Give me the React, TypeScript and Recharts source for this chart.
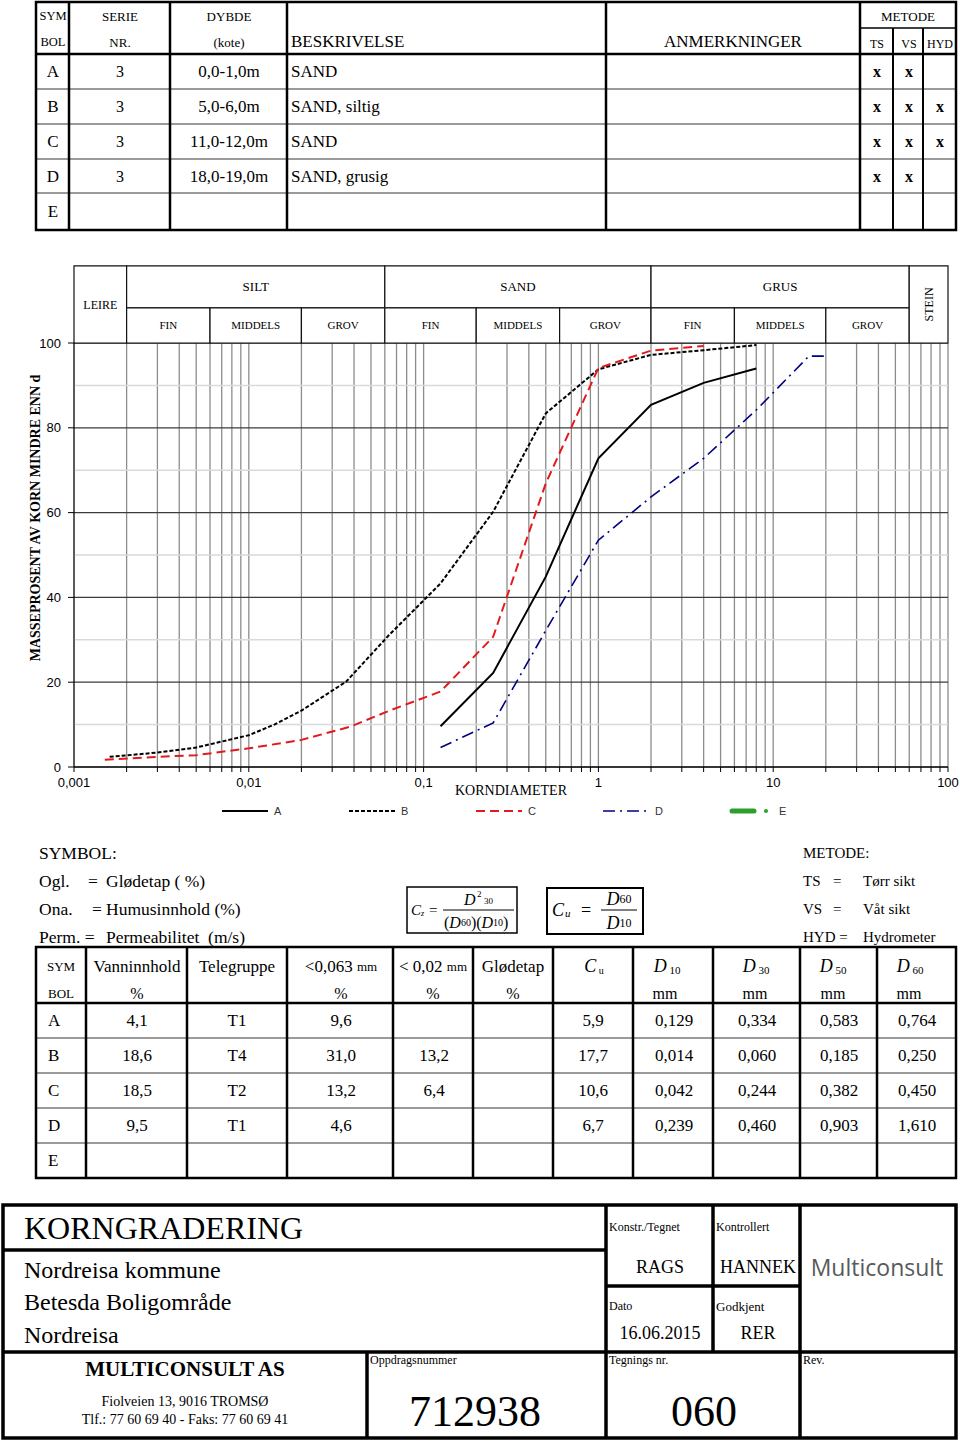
import { CartesianGrid, Legend, Line, LineChart, ReferenceArea, ReferenceLine, XAxis, YAxis } from "recharts"

const SERIF = '"Liberation Serif", "Times New Roman", serif'
const SANS = '"Liberation Sans", Arial, sans-serif'

// grain size curves: diameter (mm) / percent passing
const diamA = [0.125, 0.25, 0.5, 1, 2, 4, 8]
const passA = [9.6, 22.2, 44.9, 72.8, 85.4, 90.6, 94.0]

const diamB = [0.0016, 0.003, 0.005, 0.007, 0.01, 0.014, 0.02, 0.028, 0.036, 0.063, 0.125, 0.25, 0.5, 1, 2, 4, 8]
const passB = [2.4, 3.4, 4.6, 6.0, 7.5, 10.0, 13.3, 17.2, 20.1, 31.0, 43.3, 60.2, 83.4, 93.8, 97.2, 98.3, 99.5]

const diamC = [0.0015, 0.003, 0.005, 0.01, 0.02, 0.038, 0.063, 0.125, 0.25, 0.5, 1, 2, 4]
const passC = [1.7, 2.4, 2.8, 4.4, 6.4, 9.5, 13.2, 17.8, 30.7, 66.9, 94.1, 98.2, 99.3]

const diamD = [0.125, 0.25, 0.5, 1, 2, 4, 8, 16, 20]
const passD = [4.6, 10.4, 32.2, 53.5, 63.7, 72.8, 84.2, 96.9, 96.9]

// axes
const decadeTicks = [0.001, 0.01, 0.1, 1, 10, 100]
const decadeLabels = ["0,001", "0,01", "0,1", "1", "10", "100"]
const percentTicks = [0, 20, 40, 60, 80, 100]
const percentMinor = [10, 30, 50, 70, 90]

// soil fraction header (NS classification)
const fractionEdges = [0.002, 0.006, 0.02, 0.06, 0.2, 0.6, 2, 6, 20, 60]
const mainNames = ["SILT", "SAND", "GRUS"]
const subNames = ["FIN", "MIDDELS", "GROV"]
const headerMid = 108.3
const headerTop = 118.2

// sample tables
const symbols = ["A", "B", "C", "D", "E"]
const serieNr = ["3", "3", "3", "3", ""]
const depths = ["0,0-1,0m", "5,0-6,0m", "11,0-12,0m", "18,0-19,0m", ""]
const descriptions = ["SAND", "SAND, siltig", "SAND", "SAND, grusig", ""]
const methodTS = ["x", "x", "x", "x", ""]
const methodVS = ["x", "x", "x", "x", ""]
const methodHYD = ["", "x", "x", "", ""]

const waterContent = ["4,1", "18,6", "18,5", "9,5", ""]
const teleGroup = ["T1", "T4", "T2", "T1", ""]
const finer063 = ["9,6", "31,0", "13,2", "4,6", ""]
const finer002 = ["", "13,2", "6,4", "", ""]
const ignitionLoss = ["", "", "", "", ""]
const cuValues = ["5,9", "17,7", "10,6", "6,7", ""]
const d10 = ["0,129", "0,014", "0,042", "0,239", ""]
const d30 = ["0,334", "0,060", "0,244", "0,460", ""]
const d50 = ["0,583", "0,185", "0,382", "0,903", ""]
const d60 = ["0,764", "0,250", "0,450", "1,610", ""]

const toPoints = (diam: number[], pass: number[]) => diam.map((d, i) => ({ d, p: pass[i] }))
const seriesA = toPoints(diamA, passA)
const seriesB = toPoints(diamB, passB)
const seriesC = toPoints(diamC, passC)
const seriesD = toPoints(diamD, passD)

const xTicks = decadeTicks
  .slice(0, -1)
  .flatMap((d) => [1, 2, 3, 4, 5, 6, 7, 8, 9].map((m) => +(d * m).toPrecision(3)))
  .concat([100])

const formatX = (v: number) => {
  const e = Math.log10(v)
  if (Math.abs(e - Math.round(e)) > 1e-6) return ""
  return decadeLabels[Math.round(e) + 3] ?? ""
}

function T({ x, y, s = 16, a = "middle", bold, italic, font = SERIF, fill = "#000", children }: any) {
  return (
    <text
      x={x}
      y={y}
      fontSize={s}
      textAnchor={a}
      dominantBaseline="central"
      fontFamily={font}
      fontWeight={bold ? "bold" : "normal"}
      fontStyle={italic ? "italic" : "normal"}
      fill={fill}
      style={{ whiteSpace: "pre" }}
    >
      {children}
    </text>
  )
}

function L({ x1, y1, x2, y2, w = 2, c = "#000" }: any) {
  return <line x1={x1} y1={y1} x2={x2} y2={y2} stroke={c} strokeWidth={w} />
}

const rowYTop = [71.5, 106.5, 141.5, 176, 211.5]
const rowYBottom = [1020.5, 1055.5, 1090.5, 1125.5, 1160.5]

function FormSheet() {
  return (
    <svg width={960} height={1443} style={{ position: "absolute", left: 0, top: 0 }}>
      {/* sample table */}
      {[89, 124, 159, 193].map((y) => (
        <L key={y} x1={36} y1={y} x2={956} y2={y} c="#9a9a9a" w={2} />
      ))}
      <rect x={36} y={2} width={920} height={228} fill="none" stroke="#000" strokeWidth={2.5} />
      {[69, 170, 287, 606, 860].map((x) => (
        <L key={x} x1={x} y1={2} x2={x} y2={230} w={2.5} />
      ))}
      <L x1={893} y1={28} x2={893} y2={230} w={2} />
      <L x1={923} y1={28} x2={923} y2={230} w={2} />
      <L x1={36} y1={54} x2={956} y2={54} w={2.5} />
      <L x1={860} y1={28} x2={956} y2={28} w={1.5} />
      <T x={53} y={16} s={12.5}>SYM</T>
      <T x={53} y={42} s={12.5}>BOL</T>
      <T x={120} y={16} s={13}>SERIE</T>
      <T x={120} y={42} s={13}>NR.</T>
      <T x={229} y={16} s={13}>DYBDE</T>
      <T x={229} y={42} s={13}>(kote)</T>
      <T x={291} y={41} s={17} a="start">BESKRIVELSE</T>
      <T x={733} y={41} s={17}>ANMERKNINGER</T>
      <T x={908} y={16} s={13}>METODE</T>
      <T x={877} y={44} s={12}>TS</T>
      <T x={909} y={44} s={12}>VS</T>
      <T x={940} y={44} s={12}>HYD</T>
      {symbols.map((sym, i) => (
        <g key={sym}>
          <T x={53} y={rowYTop[i]} s={17}>{sym}</T>
          <T x={120} y={rowYTop[i]} s={16}>{serieNr[i]}</T>
          <T x={229} y={rowYTop[i]} s={17}>{depths[i]}</T>
          <T x={291} y={rowYTop[i]} s={17} a="start">{descriptions[i]}</T>
          <T x={877} y={rowYTop[i]} s={16} bold>{methodTS[i]}</T>
          <T x={909} y={rowYTop[i]} s={16} bold>{methodVS[i]}</T>
          <T x={940} y={rowYTop[i]} s={16} bold>{methodHYD[i]}</T>
        </g>
      ))}

      {/* symbol explanations */}
      <T x={39} y={853} s={17.5} a="start">SYMBOL:</T>
      <T x={39} y={881} s={17.5} a="start">Ogl.</T>
      <T x={88} y={881} s={17.5} a="start">=</T>
      <T x={106} y={881} s={17.5} a="start">Glødetap ( %)</T>
      <T x={39} y={909} s={17.5} a="start">Ona.</T>
      <T x={92} y={909} s={17.5} a="start">=</T>
      <T x={106} y={909} s={17.5} a="start">Humusinnhold (%)</T>
      <T x={39} y={937} s={17.5} a="start">Perm. =</T>
      <T x={106} y={937} s={17.5} a="start">Permeabilitet  (m/s)</T>

      <rect x={407} y={887} width={110} height={46} fill="none" stroke="#000" strokeWidth={1.5} />
      <T x={411} y={910} s={15} a="start" italic>C</T>
      <T x={421} y={913} s={8} a="start" italic>z</T>
      <T x={429} y={910} s={15} a="start">=</T>
      <L x1={443} y1={910} x2={514} y2={910} w={1} />
      <T x={464} y={899} s={16} a="start" italic>D</T>
      <T x={477} y={894} s={9} a="start">2</T>
      <T x={484} y={901} s={9} a="start">30</T>
      <text x={444} y={922} fontSize={16} fontFamily={SERIF} dominantBaseline="central">
        (<tspan fontStyle="italic">D</tspan>
        <tspan fontSize={10}>60</tspan>)(<tspan fontStyle="italic">D</tspan>
        <tspan fontSize={10}>10</tspan>)
      </text>

      <rect x={547} y={888} width={96} height={46} fill="none" stroke="#000" strokeWidth={2} />
      <T x={552} y={910} s={18} a="start" italic>C</T>
      <T x={565} y={913} s={11} a="start" italic>u</T>
      <T x={581} y={910} s={18} a="start">=</T>
      <L x1={601} y1={910} x2={637} y2={910} w={1} />
      <text x={619} y={899} fontSize={18} fontFamily={SERIF} textAnchor="middle" dominantBaseline="central">
        <tspan fontStyle="italic">D</tspan>
        <tspan fontSize={12}>60</tspan>
      </text>
      <text x={619} y={923} fontSize={18} fontFamily={SERIF} textAnchor="middle" dominantBaseline="central">
        <tspan fontStyle="italic">D</tspan>
        <tspan fontSize={12}>10</tspan>
      </text>

      <T x={803} y={853} s={15} a="start">METODE:</T>
      <T x={803} y={881} s={15} a="start">TS</T>
      <T x={833} y={881} s={15} a="start">=</T>
      <T x={863} y={881} s={15} a="start">Tørr sikt</T>
      <T x={803} y={909} s={15} a="start">VS</T>
      <T x={833} y={909} s={15} a="start">=</T>
      <T x={863} y={909} s={15} a="start">Våt sikt</T>
      <T x={803} y={937} s={15} a="start">HYD =</T>
      <T x={863} y={937} s={15} a="start">Hydrometer</T>

      {/* results table */}
      {[1038, 1073, 1108, 1143].map((y) => (
        <L key={y} x1={36} y1={y} x2={956} y2={y} c="#9a9a9a" w={2} />
      ))}
      <rect x={36} y={947} width={920} height={231} fill="none" stroke="#000" strokeWidth={2.5} />
      {[86, 187, 287, 393, 473, 553, 633, 713, 800, 877].map((x) => (
        <L key={x} x1={x} y1={947} x2={x} y2={1178} w={2.5} />
      ))}
      <L x1={36} y1={1003} x2={956} y2={1003} w={2.5} />
      <T x={61} y={966} s={13}>SYM</T>
      <T x={61} y={993} s={13}>BOL</T>
      <T x={137} y={966} s={17}>Vanninnhold</T>
      <T x={137} y={993} s={16}>%</T>
      <T x={237} y={966} s={17}>Telegruppe</T>
      <text x={341} y={966} fontSize={17} fontFamily={SERIF} textAnchor="middle" dominantBaseline="central">
        {"<0,063 "}
        <tspan fontSize={13}>mm</tspan>
      </text>
      <T x={341} y={993} s={16}>%</T>
      <text x={433} y={966} fontSize={17} fontFamily={SERIF} textAnchor="middle" dominantBaseline="central">
        {"< 0,02 "}
        <tspan fontSize={13}>mm</tspan>
      </text>
      <T x={433} y={993} s={16}>%</T>
      <T x={513} y={966} s={17}>Glødetap</T>
      <T x={513} y={993} s={16}>%</T>
      <text x={594} y={966} fontSize={18} fontFamily={SERIF} textAnchor="middle" dominantBaseline="central">
        <tspan fontStyle="italic">C</tspan>
        <tspan fontSize={10} dy={4}> u</tspan>
      </text>
      {[["10", 667, 665], ["30", 756, 755], ["50", 833, 833], ["60", 910, 909]].map(([k, cx, mx]) => (
        <g key={k as string}>
          <text x={cx as number} y={966} fontSize={18} fontFamily={SERIF} textAnchor="middle" dominantBaseline="central">
            <tspan fontStyle="italic">D</tspan>
            <tspan fontSize={11} dy={4}> {k}</tspan>
          </text>
          <T x={mx} y={993} s={16}>mm</T>
        </g>
      ))}
      {symbols.map((sym, i) => (
        <g key={sym}>
          <T x={48} y={rowYBottom[i]} s={17} a="start">{sym}</T>
          <T x={137} y={rowYBottom[i]} s={17}>{waterContent[i]}</T>
          <T x={237} y={rowYBottom[i]} s={17}>{teleGroup[i]}</T>
          <T x={341} y={rowYBottom[i]} s={17}>{finer063[i]}</T>
          <T x={434} y={rowYBottom[i]} s={17}>{finer002[i]}</T>
          <T x={513} y={rowYBottom[i]} s={17}>{ignitionLoss[i]}</T>
          <T x={593} y={rowYBottom[i]} s={17}>{cuValues[i]}</T>
          <T x={674} y={rowYBottom[i]} s={17}>{d10[i]}</T>
          <T x={757} y={rowYBottom[i]} s={17}>{d30[i]}</T>
          <T x={839} y={rowYBottom[i]} s={17}>{d50[i]}</T>
          <T x={917} y={rowYBottom[i]} s={17}>{d60[i]}</T>
        </g>
      ))}

      {/* title block */}
      <rect x={3} y={1205} width={953} height={233} fill="none" stroke="#000" strokeWidth={3.5} />
      <L x1={3} y1={1250} x2={606} y2={1250} w={3.5} />
      <L x1={3} y1={1352} x2={956} y2={1352} w={3.5} />
      <L x1={367} y1={1352} x2={367} y2={1438} w={3.5} />
      <L x1={606} y1={1205} x2={606} y2={1438} w={3.5} />
      <L x1={713} y1={1205} x2={713} y2={1352} w={3.5} />
      <L x1={606} y1={1286} x2={800} y2={1286} w={3.5} />
      <L x1={800} y1={1205} x2={800} y2={1438} w={3.5} />
      <T x={24} y={1228} s={32} a="start">KORNGRADERING</T>
      <T x={24} y={1270} s={24} a="start">Nordreisa kommune</T>
      <T x={24} y={1302} s={24} a="start">Betesda Boligområde</T>
      <T x={24} y={1335} s={24} a="start">Nordreisa</T>
      <T x={185} y={1369} s={21} bold>MULTICONSULT AS</T>
      <T x={185} y={1401} s={14}>Fiolveien 13, 9016 TROMSØ</T>
      <T x={185} y={1419} s={14}>Tlf.: 77 60 69 40 - Faks: 77 60 69 41</T>
      <T x={370} y={1360} s={12} a="start">Oppdragsnummer</T>
      <T x={475} y={1411} s={44}>712938</T>
      <T x={609} y={1227} s={12} a="start">Konstr./Tegnet</T>
      <T x={660} y={1267} s={18}>RAGS</T>
      <T x={716} y={1227} s={12} a="start">Kontrollert</T>
      <T x={758} y={1267} s={18}>HANNEK</T>
      <T x={609} y={1306} s={12} a="start">Dato</T>
      <T x={660} y={1333} s={18}>16.06.2015</T>
      <T x={716} y={1306} s={13} a="start">Godkjent</T>
      <T x={758} y={1333} s={18}>RER</T>
      <T x={877} y={1267} s={23} font='"Open Sans", sans-serif' fill="#58595b">Multiconsult</T>
      <T x={609} y={1360} s={12} a="start">Tegnings nr.</T>
      <T x={704} y={1411} s={44}>060</T>
      <T x={803} y={1360} s={12} a="start">Rev.</T>
    </svg>
  )
}

const legendItems = [
  { name: "A", color: "#000", dash: undefined, width: 2 },
  { name: "B", color: "#000", dash: "4 2", width: 2 },
  { name: "C", color: "#e31a1c", dash: "9 5", width: 2 },
  { name: "D", color: "#000080", dash: "12 5 2 5", width: 1.6 },
]

function SampleLegend() {
  return (
    <div style={{ height: 28, position: "relative" }}>
      <svg width={928} height={28} style={{ display: "block" }}>
        {legendItems.map((it, i) => (
          <g key={it.name} transform={`translate(${202 + 127 * i},14)`}>
            <line x1={0} y1={0} x2={46} y2={0} stroke={it.color} strokeWidth={it.width} strokeDasharray={it.dash} />
            <text x={52} y={0} fontSize={11} fontFamily={SANS} dominantBaseline="central" fill="#333">
              {it.name}
            </text>
          </g>
        ))}
        <g transform={`translate(${202 + 127 * 4},14)`}>
          <line x1={2} y1={0} x2={24} y2={0} stroke="#2ca02c" strokeWidth={5} strokeLinecap="round" />
          <circle cx={36} cy={0} r={2} fill="#2ca02c" />
          <text x={49} y={0} fontSize={11} fontFamily={SANS} dominantBaseline="central" fill="#333">
            E
          </text>
        </g>
      </svg>
    </div>
  )
}

function GradingChart() {
  const cellStyle = { stroke: "#111", strokeWidth: 1.2, fill: "#fff", fillOpacity: 1, ifOverflow: "visible" as const }
  return (
    <LineChart width={960} height={600} margin={{ top: 113, right: 12, bottom: 5, left: 20 }}>
      {percentMinor.map((v) => (
        <ReferenceLine key={v} y={v} stroke="#d9d9d9" strokeWidth={1.5} />
      ))}
      <CartesianGrid horizontal={false} stroke="#8c8c8c" strokeWidth={1.3} />
      <CartesianGrid vertical={false} stroke="#3c3c3c" strokeWidth={1.3} />
      <XAxis
        dataKey="d"
        type="number"
        scale="log"
        domain={[0.001, 100]}
        ticks={xTicks}
        interval={0}
        tickFormatter={formatX}
        height={30}
        tickSize={5}
        tickMargin={6}
        stroke="#000"
        tick={{ fontSize: 13, fontFamily: SANS, fill: "#000" }}
        label={{ value: "KORNDIAMETER", position: "insideBottom", offset: 2, fontSize: 14, fontFamily: SERIF, fill: "#000" }}
      />
      <YAxis
        type="number"
        domain={[0, 100]}
        ticks={percentTicks}
        width={54}
        tickSize={6}
        tickMargin={7}
        stroke="#000"
        tick={{ fontSize: 13, fontFamily: SANS, fill: "#000" }}
        label={{
          value: "MASSEPROSENT AV KORN MINDRE ENN d",
          angle: -90,
          position: "center",
          dx: -12,
          dy: -37,
          fontSize: 14,
          fontWeight: "bold",
          fontFamily: SERIF,
          fill: "#000",
        }}
      />
      <ReferenceArea
        x1={0.001}
        x2={fractionEdges[0]}
        y1={100}
        y2={headerTop}
        {...cellStyle}
        label={{ value: "LEIRE", position: "center", fontSize: 12, fontFamily: SERIF, fill: "#000" }}
      />
      {mainNames.map((name, k) => (
        <ReferenceArea
          key={name}
          x1={fractionEdges[3 * k]}
          x2={fractionEdges[3 * k + 3]}
          y1={headerMid}
          y2={headerTop}
          {...cellStyle}
          label={{ value: name, position: "center", fontSize: 13, fontFamily: SERIF, fill: "#000" }}
        />
      ))}
      {fractionEdges.slice(0, -1).map((edge, i) => (
        <ReferenceArea
          key={edge}
          x1={edge}
          x2={fractionEdges[i + 1]}
          y1={100}
          y2={headerMid}
          {...cellStyle}
          label={{ value: subNames[i % 3], position: "center", fontSize: 11, fontFamily: SERIF, fill: "#000" }}
        />
      ))}
      <ReferenceArea
        x1={fractionEdges[fractionEdges.length - 1]}
        x2={100}
        y1={100}
        y2={headerTop}
        {...cellStyle}
        label={{ value: "STEIN", position: "center", angle: -90, fontSize: 12, fontFamily: SERIF, fill: "#000" }}
      />
      <Legend verticalAlign="bottom" height={28} content={() => <SampleLegend />} />
      <Line data={seriesA} dataKey="p" name="A" stroke="#000" strokeWidth={2} dot={false} isAnimationActive={false} />
      <Line data={seriesB} dataKey="p" name="B" stroke="#000" strokeWidth={2} strokeDasharray="4 2" dot={false} isAnimationActive={false} />
      <Line data={seriesC} dataKey="p" name="C" stroke="#e31a1c" strokeWidth={2} strokeDasharray="9 5" dot={false} isAnimationActive={false} />
      <Line data={seriesD} dataKey="p" name="D" stroke="#000080" strokeWidth={1.6} strokeDasharray="12 5 2 5" dot={false} isAnimationActive={false} />
    </LineChart>
  )
}

export default function App() {
  return (
    <div style={{ position: "absolute", left: 0, top: 0, width: 960, height: 1443, background: "#fff", overflow: "hidden" }}>
      <FormSheet />
      <div style={{ position: "absolute", left: 0, top: 230 }}>
        <GradingChart />
      </div>
    </div>
  )
}
